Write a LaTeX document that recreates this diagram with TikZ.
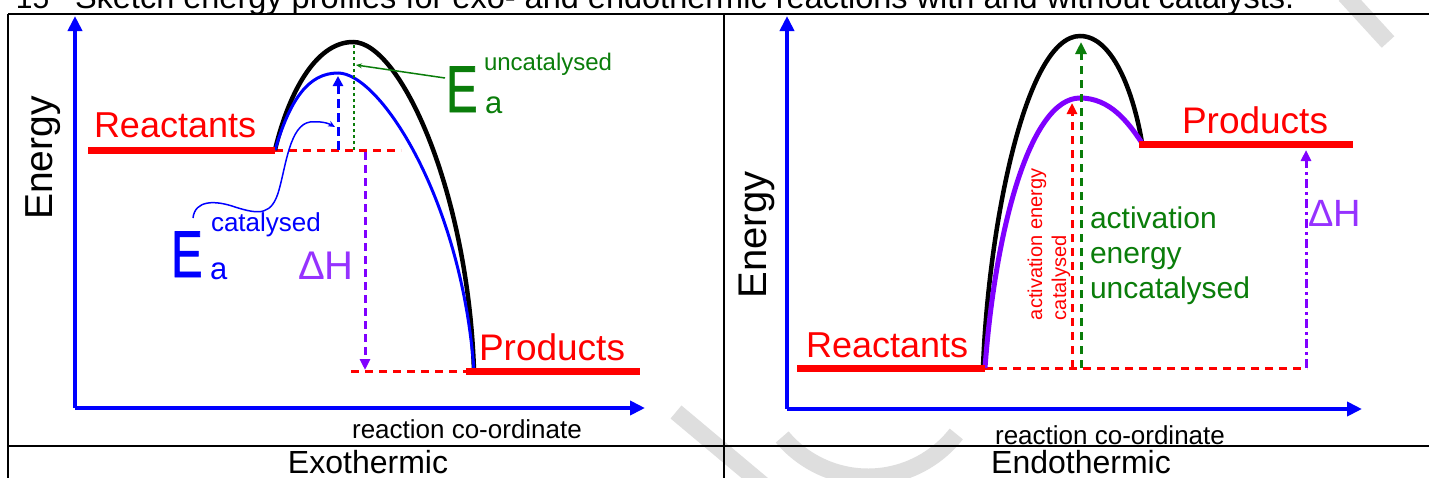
\documentclass[tikz,border=0pt]{standalone}
\usepackage{fontspec}
\setmainfont{Liberation Sans}
\newfontfamily\bigEfont{Liberation Sans}[FakeBold=1.3]
\usetikzlibrary{arrows.meta}
\definecolor{cred}{RGB}{255,0,0}
\definecolor{cblue}{RGB}{0,0,255}
\definecolor{cgreen}{RGB}{10,125,10}
\definecolor{cpurple}{RGB}{128,0,255}
\definecolor{cdh}{RGB}{150,50,255}
\definecolor{cwater}{RGB}{222,222,222}
\newcommand{\fsz}[1]{\fontsize{#1}{#1}\selectfont}
\begin{document}
\begin{tikzpicture}[x=1pt,y=-1pt,
  txt/.style={inner sep=0pt,outer sep=0pt},
  tableline/.style={black,line width=2.5pt},
  axis/.style={cblue,line width=4pt,-{Triangle[length=15pt,width=14pt]}},
  bar/.style={cred,line width=7pt},
  reddash/.style={cred,line width=3pt,dash pattern=on 8pt off 6pt},
  curveblack/.style={black,line width=4.5pt},
  bigE/.style={txt,anchor=base west,font=\bigEfont\fsz{66}},
  wmark/.style={cwater,line width=17pt}]
\useasboundingbox (0,0) rectangle (1429,477);
\fill[white] (0,0) rectangle (1429,477);
% watermark
\draw[wmark] (676,412) -- (775,495);
\draw[wmark] (868,365)+(140:112) arc[start angle=140,end angle=38,radius=112];
\draw[wmark] (1345,-5) -- (1388,42);
% title
\node[txt,anchor=base west,font=\fsz{30}] (num) at (16,8) {15};
\node[txt,anchor=base west,font=\fsz{32.5}] (title) at (75,8) {Sketch energy profiles for exo- and endothermic reactions with and without catalysts.};
% table
\coordinate (tl) at (8,14); \coordinate (tr) at (1435,14);
\coordinate (ml) at (8,446); \coordinate (mr) at (1435,446);
\coordinate (bl) at (8,480); \coordinate (vt) at (724,14); \coordinate (vb) at (724,480);
\draw[tableline] (tl) -- (tr);
\draw[tableline] (ml) -- (mr);
\draw[tableline] (tl) -- (bl);
\draw[tableline] (vt) -- (vb);
\node[txt,anchor=base,font=\fsz{32}] (exo) at (368,473) {Exothermic};
\node[txt,anchor=base,font=\fsz{32}] (endo) at (1081,473) {Endothermic};

% ================= LEFT PANEL =================
\coordinate (Lo) at (75,408);
\coordinate (Ly) at (75,16);
\coordinate (Lx) at (645,408);
\draw[axis] (Lo) -- (Ly);
\draw[axis] (Lo) -- (Lx);
\node[txt,rotate=90,font=\fsz{39}] (Lenergy) at (43,158) {Energy};
\node[txt,anchor=base,font=\fsz{26}] (Lrc) at (467,438) {reaction co-ordinate};
% levels
\coordinate (LRa) at (88,150); \coordinate (LRb) at (275,150); \coordinate (LRc) at (401,150);
\coordinate (LPa) at (351,371); \coordinate (LPb) at (466,371); \coordinate (LPc) at (640,371);
\draw[reddash] (LRb) -- (LRc);
\draw[reddash] (LPa) -- (LPb);
\node[txt,anchor=base west,font=\fsz{36},text=cred] (Lreact) at (94,137) {Reactants};
\node[txt,anchor=base west,font=\fsz{37},text=cred] (Lprod) at (479,360) {Products};
% curves
\coordinate (Lbpk) at (353,42); \coordinate (Lcpk) at (338,73); \coordinate (Lend) at (474,371);
\draw[curveblack] (LRb) .. controls (288,95) and (315,42) .. (Lbpk)
   .. controls (400,42) and (468,190) .. (Lend);
\draw[cblue,line width=3pt] (LRb) .. controls (290,100) and (308,73) .. (Lcpk)
   .. controls (380,73) and (462,200) .. (Lend);
\draw[bar] (LRa) -- (LRb);
\draw[bar] (LPb) -- (LPc);
% vertical arrows
\coordinate (Lcb) at (338,150); \coordinate (Lct) at (338,76);
\coordinate (Lub) at (354,150); \coordinate (Lut) at (354,43);
\coordinate (Lhb) at (365,152); \coordinate (Lht) at (365,370);
\draw[cblue,line width=3pt,dash pattern=on 9pt off 5pt,-{Triangle[length=10pt,width=10pt]}] (Lcb) -- (Lct);
\draw[cgreen,line width=2pt,dash pattern=on 3pt off 3pt] (Lub) -- (Lut);
\draw[cpurple,line width=3pt,dash pattern=on 8pt off 5pt,-{Triangle[length=11pt,width=10pt]}] (Lhb) -- (Lht);
% labels
\node[bigE,text=cgreen] (LEu) at (446,112) {\scalebox{0.72}[1]{E}};
\node[txt,anchor=base west,font=\fsz{24},text=cgreen] (LEusup) at (484,70) {uncatalysed};
\node[txt,anchor=base west,font=\fsz{31},text=cgreen] (LEusub) at (485,113) {a};
\coordinate (LgA) at (445,78); \coordinate (LgB) at (356,65);
\draw[cgreen,line width=1.5pt,-{Stealth[length=6pt,width=5pt]}] (LgA) -- (LgB);
\node[bigE,text=cblue] (LEc) at (171,277) {\scalebox{0.72}[1]{E}};
\node[txt,anchor=base west,font=\fsz{26},text=cblue] (LEcsup) at (211,231) {catalysed};
\node[txt,anchor=base west,font=\fsz{31},text=cblue] (LEcsub) at (210,279) {a};
\coordinate (LcA) at (193,218); \coordinate (LcB) at (335,127);
\draw[cblue,line width=1.5pt,-{Stealth[length=7pt,width=6pt]}] (LcA) .. controls (195,200) and (215,200) .. (235,207)
   .. controls (260,215) and (272,215) .. (279,190)
   .. controls (286,165) and (290,125) .. (310,122)
   .. controls (320,121) and (328,123) .. (LcB);
\node[txt,anchor=base west,font=\fsz{40},text=cdh] (LdH) at (298,279) {ΔH};

% ================= RIGHT PANEL =================
\coordinate (Ro) at (787,409);
\coordinate (Ry) at (787,16);
\coordinate (Rx) at (1362,409);
\draw[axis] (Ro) -- (Ry);
\draw[axis] (Ro) -- (Rx);
\node[txt,rotate=90,font=\fsz{40}] (Renergy) at (757,235) {Energy};
\node[txt,anchor=base,font=\fsz{26}] (Rrc) at (1110,444) {reaction co-ordinate};
\coordinate (RRa) at (797,368); \coordinate (RRb) at (985,368); \coordinate (RRc) at (1307,368);
\coordinate (RPa) at (1139,144); \coordinate (RPb) at (1353,144);
\draw[reddash] (RRb) -- (RRc);
\node[txt,anchor=base west,font=\fsz{36},text=cred] (Rreact) at (806,357) {Reactants};
\node[txt,anchor=base west,font=\fsz{37},text=cred] (Rprod) at (1182,133) {Products};
\coordinate (Rbpk) at (1080,36); \coordinate (Rcpk) at (1080,98);
\coordinate (Rbs) at (983,368); \coordinate (Rend) at (1142,143);
\draw[curveblack] (Rbs) .. controls (988,230) and (1025,36) .. (Rbpk)
   .. controls (1115,36) and (1135,100) .. (Rend);
\draw[cpurple,line width=5pt] (RRb) .. controls (995,230) and (1030,98) .. (Rcpk)
   .. controls (1110,98) and (1128,122) .. (Rend);
\draw[bar] (RRa) -- (RRb);
\draw[bar] (RPa) -- (RPb);
\coordinate (Rgb) at (1081,368); \coordinate (Rgt) at (1081,42);
\coordinate (Rrb) at (1072,368); \coordinate (Rrt) at (1072,103);
\coordinate (Rhb) at (1306,368); \coordinate (Rht) at (1306,150);
\draw[cred,line width=3pt,dash pattern=on 8pt off 6pt,-{Triangle[length=11pt,width=10pt]}] (Rrb) -- (Rrt);
\draw[cgreen,line width=3pt,dash pattern=on 8pt off 6pt,-{Triangle[length=12pt,width=11pt]}] (Rgb) -- (Rgt);
\draw[cpurple,line width=3pt,dash pattern=on 9pt off 4pt on 3pt off 4pt,-{Triangle[length=11pt,width=10pt]}] (Rhb) -- (Rht);
\node[txt,anchor=base west,font=\fsz{30},text=cgreen] (Rua) at (1090,228) {activation};
\node[txt,anchor=base west,font=\fsz{30},text=cgreen] (Rub) at (1090,263) {energy};
\node[txt,anchor=base west,font=\fsz{30},text=cgreen] (Ruc) at (1090,298) {uncatalysed};
\node[txt,anchor=base west,rotate=90,font=\fsz{20},text=cred] (Rca) at (1042,320) {activation energy};
\node[txt,anchor=base west,rotate=90,font=\fsz{20},text=cred] (Rcb) at (1066,320) {catalysed};
\node[txt,anchor=base west,font=\fsz{38},text=cdh] (RdH) at (1308,226) {ΔH};
\end{tikzpicture}
\end{document}
